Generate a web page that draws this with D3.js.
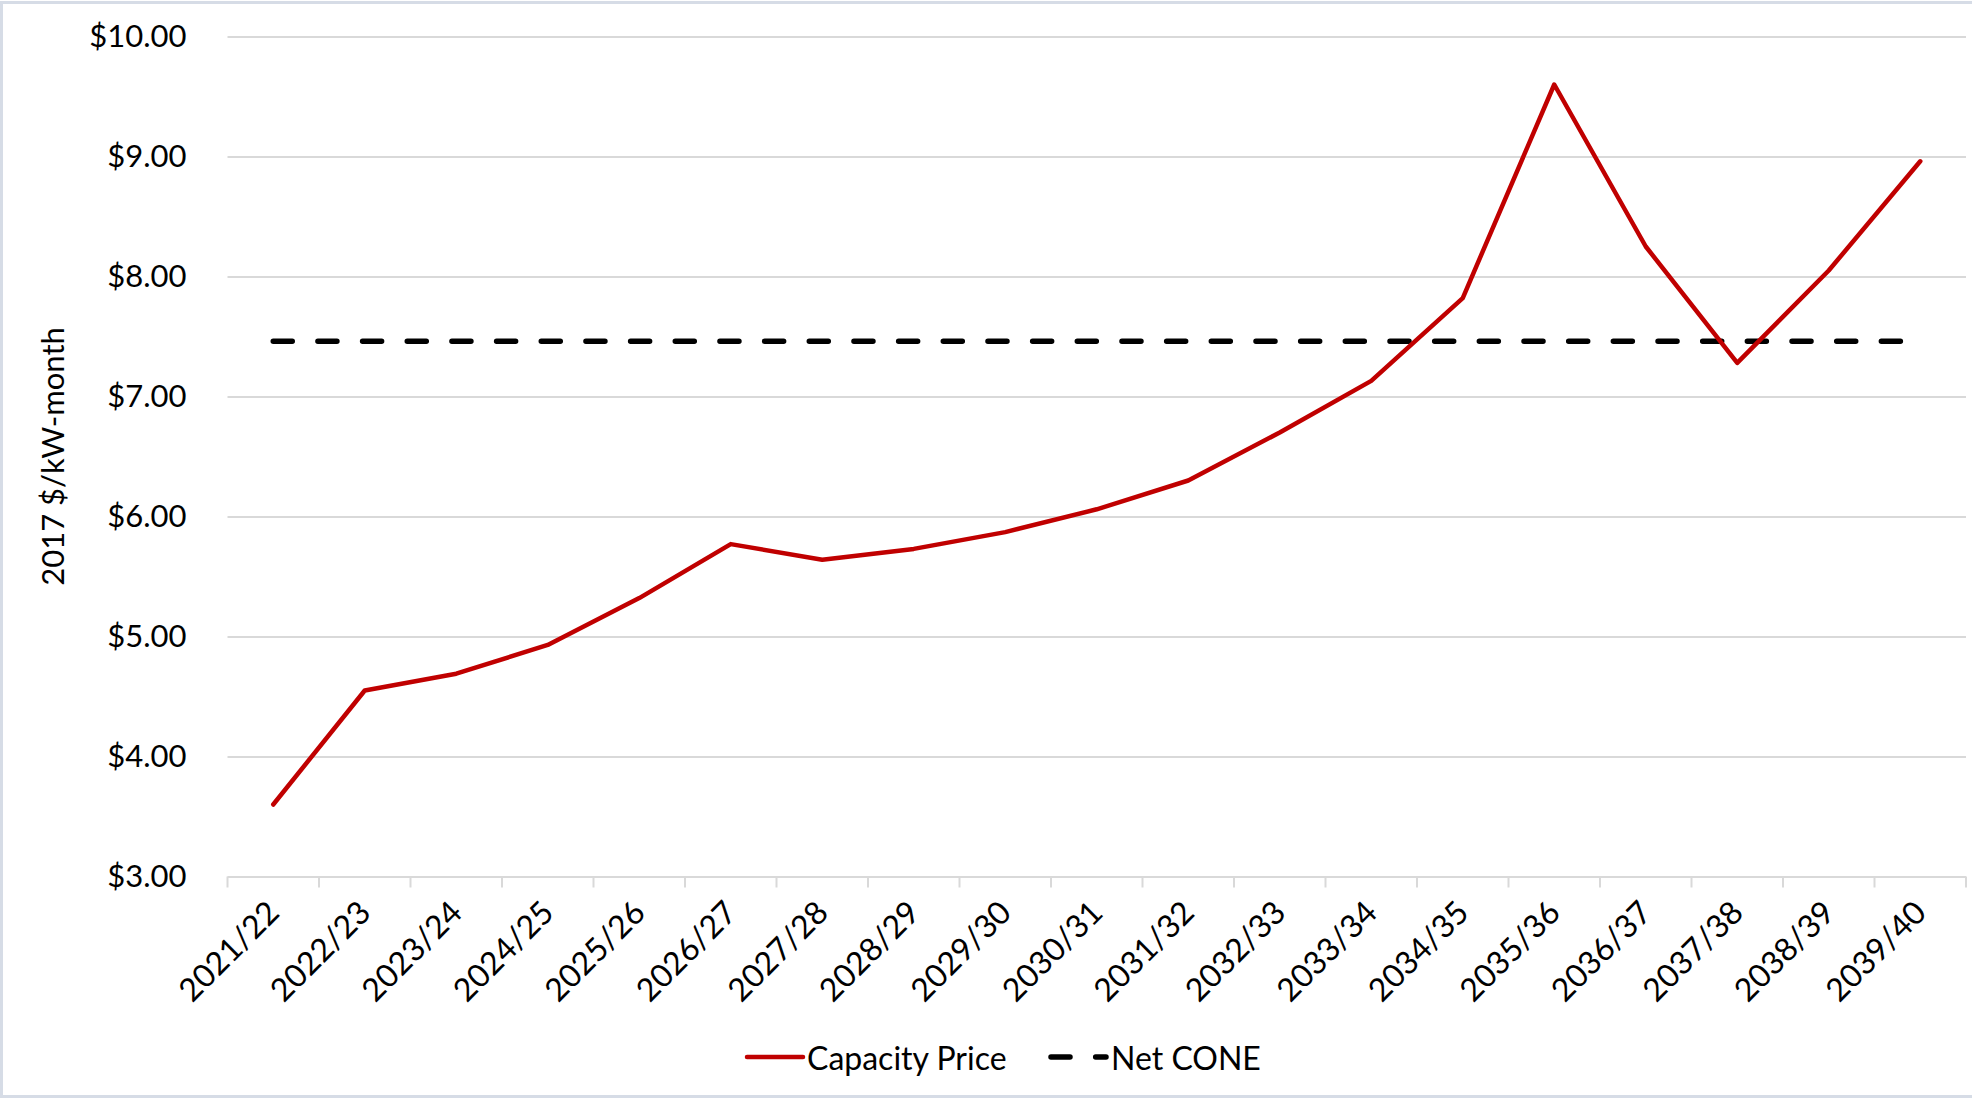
<!DOCTYPE html>
<html>
<head>
<meta charset="utf-8">
<script src="https://cdn.jsdelivr.net/npm/d3@7"></script>
<style>
  html, body { margin: 0; padding: 0; background: #ffffff; }
  svg { display: block; }
  text { font-family: Lato, "Noto Sans", sans-serif; fill: #000; }
</style>
</head>
<body>
<svg id="chart" width="1972" height="1098"></svg>
<script>
// Delivery years (x categories)
const categories = [
  "2021/22", "2022/23", "2023/24", "2024/25", "2025/26", "2026/27", "2027/28",
  "2028/29", "2029/30", "2030/31", "2031/32", "2032/33", "2033/34", "2034/35",
  "2035/36", "2036/37", "2037/38", "2038/39", "2039/40"
];

// Projected capacity price, 2017 $/kW-month
const capacityPrice = [
  3.60, 4.55, 4.69, 4.93, 5.32, 5.77, 5.64, 5.73, 5.87, 6.06,
  6.30, 6.70, 7.13, 7.82, 9.60, 8.25, 7.28, 8.05, 8.96
];

// Net CONE, flat across all years
const netCone = categories.map(() => 7.46);

// Y-axis tick values
const yTicks = [3, 4, 5, 6, 7, 8, 9, 10];

const seriesNames = ["Capacity Price", "Net CONE"];

const svg = d3.select("#chart");
const W = 1972, H = 1098;
const plot = { left: 227.5, right: 1966, top: 36.5, bottom: 876.5 };
const FONT = 31;
const DASH = "19 25.67";

// Outer frame of the chart area
svg.append("rect")
  .attr("x", 1.5).attr("y", 2.5)
  .attr("width", W + 4).attr("height", H - 4)
  .attr("fill", "none")
  .attr("stroke", "#d6dce6")
  .attr("stroke-width", 3);

const x = d3.scaleBand()
  .domain(categories)
  .range([plot.left, plot.right])
  .padding(0);
const cx = c => x(c) + x.bandwidth() / 2;

const y = d3.scaleLinear()
  .domain([3, 10])
  .range([plot.bottom, plot.top]);

// Horizontal gridlines and $ labels
const yAxis = d3.axisLeft(y)
  .tickValues(yTicks)
  .tickFormat(d3.format("$.2f"))
  .tickSize(-(plot.right - plot.left))
  .tickPadding(41);

const gy = svg.append("g")
  .attr("transform", `translate(${plot.left},0)`)
  .call(yAxis);
gy.select(".domain").remove();
gy.selectAll(".tick line")
  .attr("stroke", "#d9d9d9")
  .attr("stroke-width", 2);
gy.selectAll(".tick text")
  .style("font-size", FONT + "px")
  .attr("fill", "#000");

// Category boundary tick marks below the axis
const boundaries = categories.map(c => x(c)).concat([x.range()[1]]);
svg.append("g").selectAll("line")
  .data(boundaries)
  .join("line")
  .attr("x1", d => d).attr("x2", d => d)
  .attr("y1", plot.bottom).attr("y2", plot.bottom + 11)
  .attr("stroke", "#d9d9d9")
  .attr("stroke-width", 2);

// Rotated category labels
svg.append("g").selectAll("text")
  .data(categories)
  .join("text")
  .attr("transform", d => `translate(${cx(d) + 8},${plot.bottom + 38}) rotate(-45)`)
  .attr("text-anchor", "end")
  .style("font-size", (FONT + 1) + "px")
  .text(d => d);

// Y-axis title
svg.append("text")
  .attr("transform", `translate(52,${(plot.top + plot.bottom) / 2}) rotate(-90)`)
  .attr("text-anchor", "middle")
  .attr("dominant-baseline", "central")
  .style("font-size", FONT + "px")
  .text("2017 $/kW-month");

const line = d3.line()
  .x((d, i) => cx(categories[i]))
  .y(d => y(d));

// Net CONE (dashed)
svg.append("path")
  .datum(netCone)
  .attr("d", line)
  .attr("fill", "none")
  .attr("stroke", "#000")
  .attr("stroke-width", 5.5)
  .attr("stroke-linecap", "round")
  .attr("stroke-dasharray", DASH);

// Capacity price
svg.append("path")
  .datum(capacityPrice)
  .attr("d", line)
  .attr("fill", "none")
  .attr("stroke", "#c00000")
  .attr("stroke-width", 4.5)
  .attr("stroke-linejoin", "round")
  .attr("stroke-linecap", "round");

// Legend
const legendY = 1057;
const legend = svg.append("g");
legend.append("line")
  .attr("x1", 747).attr("x2", 803)
  .attr("y1", legendY).attr("y2", legendY)
  .attr("stroke", "#c00000").attr("stroke-width", 4.5)
  .attr("stroke-linecap", "round");
legend.append("text")
  .attr("x", 807).attr("y", legendY)
  .attr("dominant-baseline", "central")
  .style("font-size", (FONT + 1) + "px")
  .text(seriesNames[0]);
legend.append("line")
  .attr("x1", 1051).attr("x2", 1106)
  .attr("y1", legendY).attr("y2", legendY)
  .attr("stroke", "#000").attr("stroke-width", 5.5)
  .attr("stroke-linecap", "round")
  .attr("stroke-dasharray", DASH);
legend.append("text")
  .attr("x", 1111).attr("y", legendY)
  .attr("dominant-baseline", "central")
  .style("font-size", (FONT + 1) + "px")
  .text(seriesNames[1]);
</script>
</body>
</html>
